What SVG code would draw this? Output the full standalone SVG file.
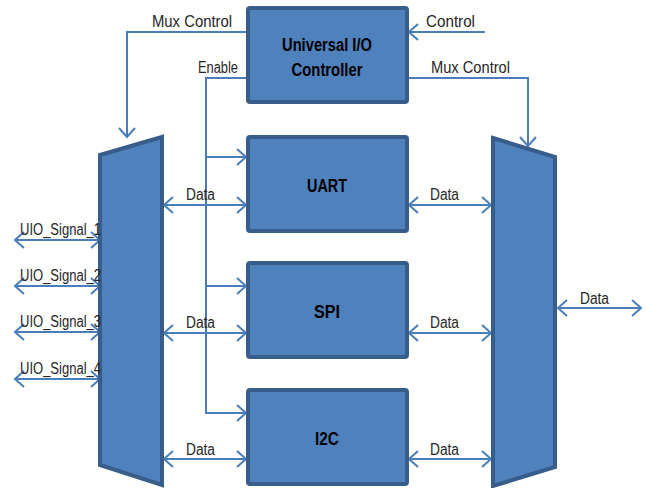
<svg xmlns="http://www.w3.org/2000/svg" width="647" height="488" viewBox="0 0 647 488">
<defs>
<marker id="ah" markerUnits="userSpaceOnUse" markerWidth="12" markerHeight="18" refX="10" refY="9" orient="auto-start-reverse" viewBox="0 0 12 18">
<path d="M1,1 L10,9 L1,17" fill="none" stroke="#4A7EBB" stroke-width="2"/>
</marker>
<style>
.box{fill:#4F81BD;stroke:#385D8A;stroke-width:4}
.ln{fill:none;stroke:#4A7EBB;stroke-width:2}
.lab{font-family:"Liberation Sans",Arial,sans-serif;font-size:16px;fill:#262626}
.bt{font-family:"Liberation Sans",Arial,sans-serif;font-size:18px;font-weight:bold;fill:#000;text-anchor:middle}
</style>
</defs>
<rect width="647" height="488" fill="#fff"/>
<g id="connectors">
<polyline class="ln" points="248,32 127,32 127,137" marker-end="url(#ah)"/>
<polyline class="ln" points="485,32 409,32" marker-end="url(#ah)"/>
<polyline class="ln" points="407,78 528,78 528,146" marker-end="url(#ah)"/>
<polyline class="ln" points="248,78 206,78 206,413 246,413" marker-end="url(#ah)"/>
<line class="ln" x1="206" y1="157" x2="246" y2="157" marker-end="url(#ah)"/>
<line class="ln" x1="206" y1="286" x2="246" y2="286" marker-end="url(#ah)"/>
<line class="ln" x1="164" y1="205" x2="246" y2="205" marker-start="url(#ah)" marker-end="url(#ah)"/>
<line class="ln" x1="164" y1="333" x2="246" y2="333" marker-start="url(#ah)" marker-end="url(#ah)"/>
<line class="ln" x1="164" y1="459" x2="246" y2="459" marker-start="url(#ah)" marker-end="url(#ah)"/>
<line class="ln" x1="409" y1="205" x2="491" y2="205" marker-start="url(#ah)" marker-end="url(#ah)"/>
<line class="ln" x1="409" y1="333" x2="491" y2="333" marker-start="url(#ah)" marker-end="url(#ah)"/>
<line class="ln" x1="409" y1="459" x2="491" y2="459" marker-start="url(#ah)" marker-end="url(#ah)"/>
<line class="ln" x1="558" y1="308" x2="641" y2="308" marker-start="url(#ah)" marker-end="url(#ah)"/>
<line class="ln" x1="15" y1="240" x2="100" y2="240" marker-start="url(#ah)" marker-end="url(#ah)"/>
<line class="ln" x1="15" y1="286" x2="100" y2="286" marker-start="url(#ah)" marker-end="url(#ah)"/>
<line class="ln" x1="15" y1="332" x2="100" y2="332" marker-start="url(#ah)" marker-end="url(#ah)"/>
<line class="ln" x1="15" y1="379" x2="100" y2="379" marker-start="url(#ah)" marker-end="url(#ah)"/>
</g>
<g id="controller">
<rect class="box" x="248" y="8" width="159" height="94" rx="2"/>
<text class="bt" x="327" y="51" textLength="90" lengthAdjust="spacingAndGlyphs">Universal I/O</text>
<text class="bt" x="327" y="76" textLength="71" lengthAdjust="spacingAndGlyphs">Controller</text>
</g>
<g id="uart">
<rect class="box" x="248" y="137" width="159" height="94" rx="2"/>
<text class="bt" x="327" y="192" textLength="40" lengthAdjust="spacingAndGlyphs">UART</text>
</g>
<g id="spi">
<rect class="box" x="248" y="263" width="159" height="94" rx="2"/>
<text class="bt" x="327" y="318" textLength="26" lengthAdjust="spacingAndGlyphs">SPI</text>
</g>
<g id="i2c">
<rect class="box" x="248" y="390" width="159" height="94" rx="2"/>
<text class="bt" x="327" y="445" textLength="24" lengthAdjust="spacingAndGlyphs">I2C</text>
</g>
<g id="left-mux">
<polygon class="box" points="100,155 162,137 162,485 100,465"/>
</g>
<g id="right-mux">
<polygon class="box" points="493,138 555,157 555,467 493,486"/>
</g>
<g id="labels">
<text class="lab" x="152" y="27" textLength="80" lengthAdjust="spacingAndGlyphs">Mux Control</text>
<text class="lab" x="198" y="73" textLength="40" lengthAdjust="spacingAndGlyphs">Enable</text>
<text class="lab" x="426" y="27" textLength="49" lengthAdjust="spacingAndGlyphs">Control</text>
<text class="lab" x="431" y="73" textLength="79" lengthAdjust="spacingAndGlyphs">Mux Control</text>
<text class="lab" x="186" y="200" textLength="29" lengthAdjust="spacingAndGlyphs">Data</text>
<text class="lab" x="186" y="328" textLength="29" lengthAdjust="spacingAndGlyphs">Data</text>
<text class="lab" x="186" y="455" textLength="29" lengthAdjust="spacingAndGlyphs">Data</text>
<text class="lab" x="430" y="200" textLength="29" lengthAdjust="spacingAndGlyphs">Data</text>
<text class="lab" x="430" y="328" textLength="29" lengthAdjust="spacingAndGlyphs">Data</text>
<text class="lab" x="430" y="455" textLength="29" lengthAdjust="spacingAndGlyphs">Data</text>
<text class="lab" x="580" y="304" textLength="29" lengthAdjust="spacingAndGlyphs">Data</text>
<text class="lab" x="20" y="235" textLength="81" lengthAdjust="spacingAndGlyphs">UIO_Signal_1</text>
<text class="lab" x="20" y="281" textLength="81" lengthAdjust="spacingAndGlyphs">UIO_Signal_2</text>
<text class="lab" x="20" y="327" textLength="81" lengthAdjust="spacingAndGlyphs">UIO_Signal_3</text>
<text class="lab" x="20" y="374" textLength="81" lengthAdjust="spacingAndGlyphs">UIO_Signal_4</text>
</g>
</svg>
